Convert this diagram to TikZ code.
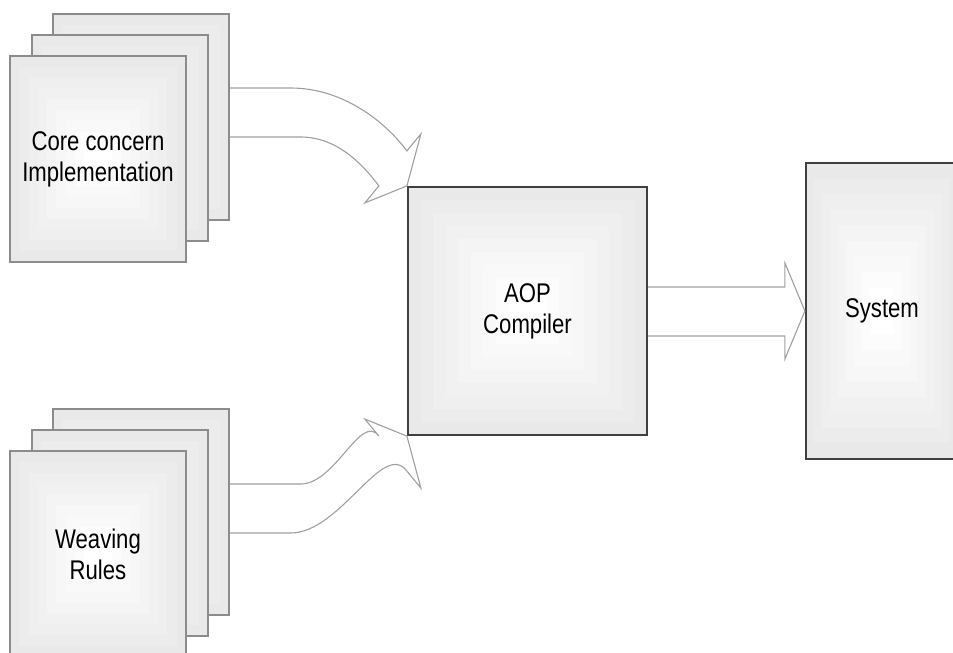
\documentclass[tikz,border=0pt]{standalone}
\usepackage{fontspec}
\setmainfont{Liberation Sans}[FakeStretch=0.82]
\usetikzlibrary{positioning, calc}

\tikzset{
	% square fade from a grey rim to a white middle
	fade/.style={path picture={
		\foreach \k in {0,...,8}{
			\pgfmathsetmacro\rim{17-\k*2.1}
			\fill[gray!\rim] ($(path picture bounding box.south west)!\k/19!(path picture bounding box.north east)$)
				rectangle ($(path picture bounding box.north east)!\k/19!(path picture bounding box.south west)$);
		}
	}},
	sheet/.style={fade, draw=gray!90, line width=0.6pt, minimum width=88pt, minimum height=103pt,
		inner sep=0pt, align=center, font=\fontsize{13.5}{15.5}\selectfont},
	block/.style={fade, draw=black!75, line width=1.1pt, inner sep=0pt, align=center,
		font=\fontsize{13.5}{15.5}\selectfont},
	fatarrow/.style={draw=gray!75, line width=0.55pt, line join=miter}
}

\begin{document}
\begin{tikzpicture}[x=0.5pt, y=-0.5pt]
	\useasboundingbox (0,0) rectangle (953,653);

	% stack of core sources
	\node[sheet] (core3) at (141,117) {};
	\node[sheet] (core2) at ($(core3)+(-21,21)$) {};
	\node[sheet] (core1) at ($(core2)+(-22,21)$) {Core concern\\Implementation};

	% stack of weaving rules
	\node[sheet] (weave3) at (141,512) {};
	\node[sheet] (weave2) at ($(weave3)+(-21,21)$) {};
	\node[sheet] (weave1) at ($(weave2)+(-22,21)$) {Weaving\\Rules};

	% compiler and result
	\node[block, minimum width=119.5pt, minimum height=124pt] (aop) at (527.5,311) {AOP\\Compiler};
	\node[block, minimum width=76pt, minimum height=148pt] (sys) at (882,311) {System};

	% wide arrow, core sources -> compiler
	\draw[fatarrow] ($(core3.east)+(0,-29)$) -- ++(61,0)
		.. controls +(50,0) and ($(aop.north west)+(-24,-67)$) .. ($(aop.north west)+(0,-35)$)
		-- ++(14,-17) -- (aop.north west) -- ++(-42,17) -- ++(14,-17)
		.. controls ++(-18,-24) and ($(core3.east)+(106,20)$) .. ($(core3.east)+(71,20)$)
		-- ($(core3.east)+(0,20)$);

	% wide arrow, weaving rules -> compiler
	\draw[fatarrow] ($(weave3.east)+(0,-28)$) -- ++(71,0)
		.. controls +(35,0) and ($(aop.south west)+(-46,-24)$) .. ($(aop.south west)+(-28,0)$)
		-- ++(-14,-17) -- (aop.south west) -- ++(14,52) -- ++(-14,-17)
		.. controls ++(-24,-32) and ($(weave3.east)+(111,21)$) .. ($(weave3.east)+(61,21)$)
		-- ($(weave3.east)+(0,21)$);

	% wide arrow, compiler -> system
	\draw[fatarrow] ($(aop.east)+(0,-24)$) -- ($(sys.west)+(-20,-24)$) -- ($(sys.west)+(-20,-48)$)
		-- (sys.west) -- ($(sys.west)+(-20,48)$) -- ($(sys.west)+(-20,25)$) -- ($(aop.east)+(0,25)$);
\end{tikzpicture}
\end{document}
